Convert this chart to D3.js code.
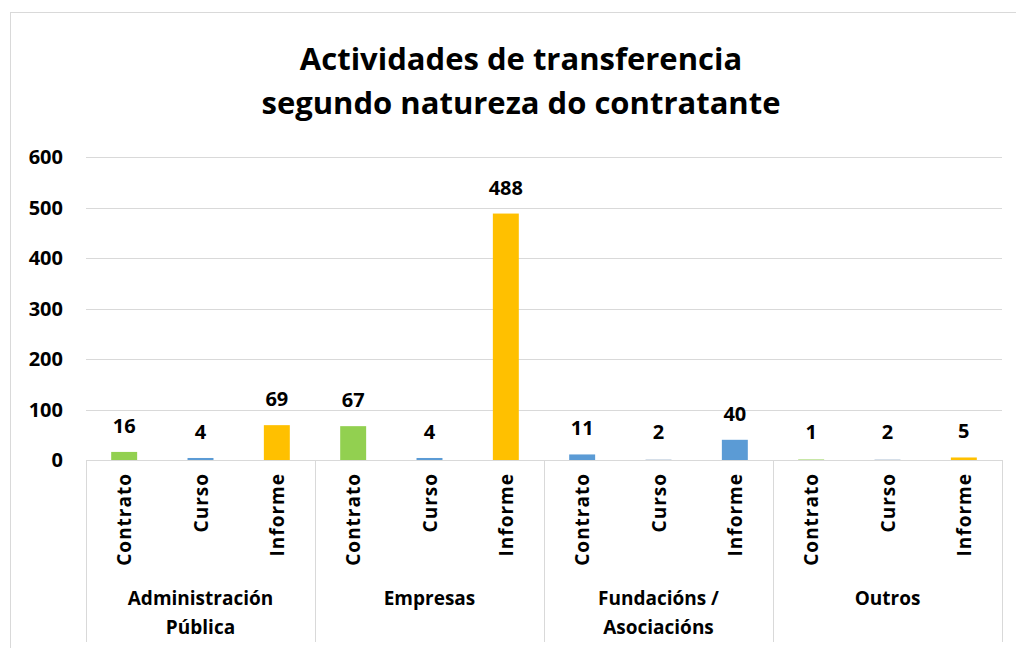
<!DOCTYPE html>
<html lang="gl">
<head>
<meta charset="UTF-8">
<title>Actividades de transferencia</title>
<script src="https://d3js.org/d3.v7.min.js"></script>
<style>
  body { margin: 0; padding: 0; background: #fff; }
  svg { display: block; font-family: 'Open Sans', sans-serif; }
  text { fill: #000; font-weight: bold; }
</style>
</head>
<body>
<svg width="1016" height="648"></svg>
<script>
// data
const groups = ["Administración Pública", "Empresas", "Fundacións / Asociacións", "Outros"];
const groupLines = [["Administración", "Pública"], ["Empresas"], ["Fundacións /", "Asociacións"], ["Outros"]];
const types = ["Contrato", "Curso", "Informe"];
const values = [
  [16, 4, 69],
  [67, 4, 488],
  [11, 2, 40],
  [1, 2, 5]
];
const barColors = [
  ["#92d050", "#5b9bd5", "#ffc000"],
  ["#92d050", "#5b9bd5", "#ffc000"],
  ["#5b9bd5", "#d6dfe9", "#5b9bd5"],
  ["#92d050", "#d6dfe9", "#ffc000"]
];
const yTicks = [0, 100, 200, 300, 400, 500, 600];

const svg = d3.select("svg");
const plot = { left: 86, right: 1002, top: 157, bottom: 460 };

// chart frame (runs off the right and bottom edges)
svg.append("rect")
   .attr("x", 10.5).attr("y", 12.5)
   .attr("width", 1030).attr("height", 660)
   .attr("fill", "none").attr("stroke", "#d9d9d9").attr("stroke-width", 1);

// title
svg.append("text").attr("x", 521).attr("y", 70).attr("text-anchor", "middle")
   .style("font-size", "31px").text("Actividades de transferencia");
svg.append("text").attr("x", 521).attr("y", 114).attr("text-anchor", "middle")
   .style("font-size", "31px").text("segundo natureza do contratante");

const rows = [];
groups.forEach((g, gi) => types.forEach((t, ti) => {
  rows.push({ key: gi + "-" + ti, group: gi, type: t, value: values[gi][ti], color: barColors[gi][ti] });
}));

const x = d3.scaleBand()
  .domain(rows.map(d => d.key))
  .range([plot.left, plot.right])
  .paddingInner(0.66).paddingOuter(0.33);

const xGroup = d3.scaleBand()
  .domain(groups)
  .range([plot.left, plot.right]);

const y = d3.scaleLinear().domain([0, 600]).range([plot.bottom, plot.top]);

// gridlines
svg.append("g").selectAll("line").data(yTicks.filter(d => d > 0)).enter().append("line")
   .attr("x1", plot.left).attr("x2", plot.right)
   .attr("y1", d => Math.round(y(d)) + 0.5).attr("y2", d => Math.round(y(d)) + 0.5)
   .attr("stroke", "#d9d9d9").attr("stroke-width", 1);

// y tick labels
svg.append("g").selectAll("text").data(yTicks).enter().append("text")
   .attr("x", 63).attr("y", d => y(d) + 7)
   .attr("text-anchor", "end").style("font-size", "20px")
   .text(d => d);

// bars
svg.append("g").selectAll("rect").data(rows).enter().append("rect")
   .attr("x", d => x(d.key))
   .attr("width", x.bandwidth())
   .attr("y", d => y(d.value))
   .attr("height", d => y(0) - y(d.value))
   .attr("fill", d => d.color);

// value labels
svg.append("g").selectAll("text").data(rows).enter().append("text")
   .attr("x", d => x(d.key) + x.bandwidth() / 2)
   .attr("y", d => Math.min(y(d.value), y(0) - 2) - 19)
   .attr("text-anchor", "middle").style("font-size", "20px")
   .text(d => d.value);

// x axis line and group separators
svg.append("line")
   .attr("x1", plot.left).attr("x2", plot.right)
   .attr("y1", plot.bottom + 0.5).attr("y2", plot.bottom + 0.5)
   .attr("stroke", "#d9d9d9");
const seps = groups.map(g => xGroup(g)).concat([plot.right]);
svg.append("g").selectAll("line").data(seps).enter().append("line")
   .attr("x1", d => Math.round(d) + 0.5).attr("x2", d => Math.round(d) + 0.5)
   .attr("y1", plot.bottom).attr("y2", 642)
   .attr("stroke", "#d9d9d9");

// category labels (rotated)
svg.append("g").selectAll("text").data(rows).enter().append("text")
   .attr("transform", d => `translate(${x(d.key) + x.bandwidth() / 2 + 7},473) rotate(-90)`)
   .attr("text-anchor", "end").style("font-size", "19px").style("letter-spacing", "1px")
   .text(d => d.type);

// group labels
const gl = svg.append("g").selectAll("text").data(groups).enter().append("text")
   .attr("x", d => xGroup(d) + xGroup.bandwidth() / 2)
   .attr("y", 605).attr("text-anchor", "middle").style("font-size", "19px");
gl.selectAll("tspan").data((d, i) => groupLines[i]).enter().append("tspan")
   .attr("x", function() { return d3.select(this.parentNode).attr("x"); })
   .attr("dy", (d, i) => i === 0 ? 0 : 29)
   .text(d => d);
</script>
</body>
</html>
